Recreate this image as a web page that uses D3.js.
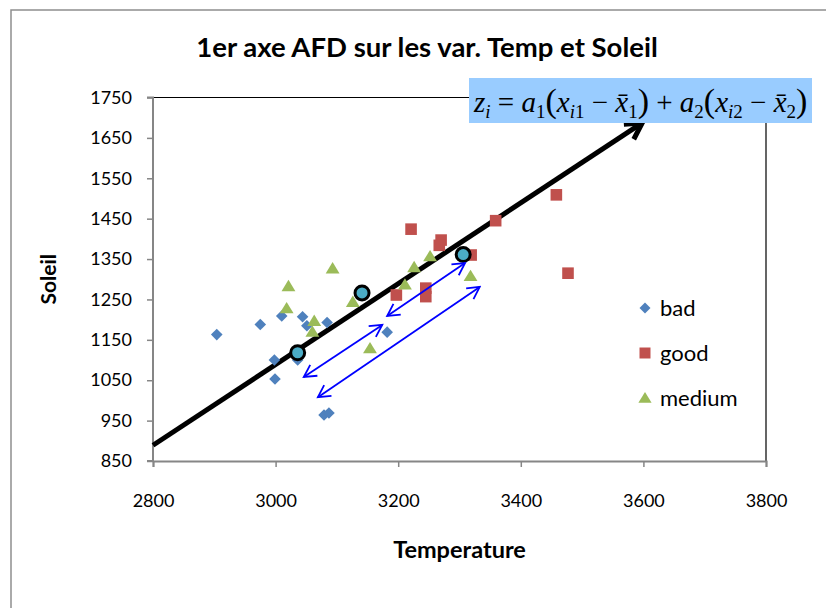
<!DOCTYPE html>
<html>
<head>
<meta charset="utf-8">
<script src="https://cdn.jsdelivr.net/npm/d3@7"></script>
<style>
  body { margin: 0; background: #fff; }
  svg { display: block; }
</style>
</head>
<body>
<svg id="chart" width="826" height="608"></svg>
<script>
// Axis ticks
const xTicks = [2800, 3000, 3200, 3400, 3600, 3800];
const yTicks = [850, 950, 1050, 1150, 1250, 1350, 1450, 1550, 1650, 1750];

// Observations per class: Temperature / Soleil
const badTemp = [2904, 2975, 3010, 3044, 3051, 3084, 2998, 2999, 3036, 3182, 3079, 3087];
const badSun  = [1163, 1188, 1209, 1207, 1185, 1193, 1100, 1053, 1100, 1169, 964, 969];
const goodTemp = [3221, 3270, 3267, 3359, 3458, 3477, 3197, 3245, 3245, 3319];
const goodSun  = [1424, 1397, 1384, 1445, 1509, 1315, 1261, 1278, 1257, 1360];
const mediumTemp = [3093, 3021, 3018, 3063, 3060, 3126, 3211, 3226, 3252, 3318, 3154];
const mediumSun  = [1327, 1283, 1228, 1197, 1170, 1244, 1287, 1330, 1357, 1308, 1129];

// Class centroids (bad, medium, good)
const centroidTemp = [3036, 3141, 3306];
const centroidSun  = [1118, 1266, 1361];

// First discriminant axis, drawn as an arrow
const axisFrom = [2800, 889];
const axisTo   = [3598, 1687];

// Double-headed arrows showing the spread along the axis
const spreadFrom = [[3046, 1058], [3069, 1008], [3182, 1209]];
const spreadTo   = [[3174, 1187], [3333, 1281], [3309, 1340]];

const legendLabels = ["bad", "good", "medium"];
const colors = { bad: "#4f81bd", good: "#c0504d", medium: "#9bbb59" };

const svg = d3.select("#chart");
const sans = "Lato, 'Open Sans', sans-serif";

const x = d3.scaleLinear().domain([2800, 3800]).range([153, 766]);
const y = d3.scaleLinear().domain([850, 1750]).range([461, 97.5]);

// Outer chart frame
svg.append("rect")
  .attr("x", 11).attr("y", 10).attr("width", 900).attr("height", 700)
  .attr("fill", "#fff").attr("stroke", "#8e8e8e").attr("stroke-width", 1.5);

// Title
svg.append("text")
  .attr("x", 427).attr("y", 57)
  .attr("text-anchor", "middle")
  .attr("font-family", sans).attr("font-weight", "bold").attr("font-size", 27.5)
  .attr("fill", "#000")
  .text("1er axe AFD sur les var. Temp et Soleil");

// Plot area top and right borders
svg.append("path")
  .attr("d", `M${x(2800)},${y(1750)}H${x(3800)}V${y(850)}`)
  .attr("fill", "none").attr("stroke", "#000").attr("stroke-width", 1.2);

// Axes
const axisColor = "#868686";
const gx = svg.append("g").attr("transform", `translate(0,${y(850)})`)
  .call(d3.axisBottom(x).tickValues(xTicks).tickSize(6).tickPadding(27).tickFormat(d3.format("d")));
const gy = svg.append("g").attr("transform", `translate(${x(2800)},0)`)
  .call(d3.axisLeft(y).tickValues(yTicks).tickSize(6).tickPadding(15).tickFormat(d3.format("d")));
[gx, gy].forEach(g => {
  g.select(".domain").attr("stroke", axisColor).attr("stroke-width", 2);
  g.selectAll(".tick line").attr("stroke", axisColor).attr("stroke-width", 1.5);
  g.selectAll(".tick text").attr("font-family", sans).attr("font-size", 18).attr("fill", "#000");
});
gy.select(".domain").attr("d", `M-6,${y(1750)}H0V${y(850)}H-6`);

// Axis titles
svg.append("text")
  .attr("x", (x(2800) + x(3800)) / 2).attr("y", 558)
  .attr("text-anchor", "middle")
  .attr("font-family", sans).attr("font-weight", "bold").attr("font-size", 23.5)
  .text("Temperature");
svg.append("text")
  .attr("transform", `translate(56,${(y(850) + y(1750)) / 2}) rotate(-90)`)
  .attr("text-anchor", "middle")
  .attr("font-family", sans).attr("font-weight", "bold").attr("font-size", 21)
  .text("Soleil");

// Arrowhead markers
const defs = svg.append("defs");
defs.append("marker")
  .attr("id", "bigHead").attr("viewBox", "-20 -12 24 24")
  .attr("refX", 0).attr("refY", 0)
  .attr("markerWidth", 24).attr("markerHeight", 24)
  .attr("markerUnits", "userSpaceOnUse").attr("orient", "auto")
  .append("path").attr("d", "M-16,-9L0,0L-16,9")
  .attr("fill", "none").attr("stroke", "#000").attr("stroke-width", 5)
  .attr("stroke-linejoin", "miter");
defs.append("marker")
  .attr("id", "blueHead").attr("viewBox", "-16 -10 18 20")
  .attr("refX", 0).attr("refY", 0)
  .attr("markerWidth", 18).attr("markerHeight", 20)
  .attr("markerUnits", "userSpaceOnUse").attr("orient", "auto-start-reverse")
  .append("path").attr("d", "M-12,-6.5L0,0L-12,6.5")
  .attr("fill", "none").attr("stroke", "#0000ff").attr("stroke-width", 1.8);

// Discriminant axis
svg.append("line")
  .attr("x1", x(axisFrom[0])).attr("y1", y(axisFrom[1]))
  .attr("x2", x(axisTo[0])).attr("y2", y(axisTo[1]))
  .attr("stroke", "#000").attr("stroke-width", 5)
  .attr("marker-end", "url(#bigHead)");

// Marker shapes
const shape = {
  bad: s => `M0,${-s}L${s},0L0,${s}L${-s},0Z`,
  good: s => `M${-s},${-s}H${s}V${s}H${-s}Z`,
  medium: s => `M0,${-s}L${s * 1.1},${s * 0.8}H${-s * 1.1}Z`
};
const shapeSize = { bad: 5.8, good: 5.8, medium: 6.3 };

const series = [
  { key: "bad", t: badTemp, s: badSun },
  { key: "good", t: goodTemp, s: goodSun },
  { key: "medium", t: mediumTemp, s: mediumSun }
];
series.forEach(sr => {
  svg.append("g").selectAll("path")
    .data(sr.t.map((t, i) => [t, sr.s[i]]))
    .join("path")
    .attr("transform", d => `translate(${x(d[0])},${y(d[1])})`)
    .attr("d", shape[sr.key](shapeSize[sr.key]))
    .attr("fill", colors[sr.key]);
});

// Class centroids
svg.append("g").selectAll("circle")
  .data(centroidTemp.map((t, i) => [t, centroidSun[i]]))
  .join("circle")
  .attr("cx", d => x(d[0])).attr("cy", d => y(d[1]))
  .attr("r", 7)
  .attr("fill", "#4bacc6").attr("stroke", "#000").attr("stroke-width", 3);

// Spread arrows
svg.append("g").selectAll("line")
  .data(spreadFrom.map((f, i) => [f, spreadTo[i]]))
  .join("line")
  .attr("x1", d => x(d[0][0])).attr("y1", d => y(d[0][1]))
  .attr("x2", d => x(d[1][0])).attr("y2", d => y(d[1][1]))
  .attr("stroke", "#0000ff").attr("stroke-width", 1.8)
  .attr("marker-start", "url(#blueHead)").attr("marker-end", "url(#blueHead)");

// Legend
const legend = svg.append("g");
legendLabels.forEach((k, i) => {
  const cy = 308 + i * 45;
  legend.append("path")
    .attr("transform", `translate(645,${cy})`)
    .attr("d", shape[k](k === "medium" ? 6 : 5.5))
    .attr("fill", colors[k]);
  legend.append("text")
    .attr("x", 660).attr("y", cy).attr("dy", "0.36em")
    .attr("font-family", sans).attr("font-size", 22)
    .text(k);
});

// Formula box
svg.append("rect")
  .attr("x", 469).attr("y", 78).attr("width", 343).attr("height", 45)
  .attr("fill", "#99ccff");

const formula = svg.append("text")
  .attr("x", 474).attr("y", 112)
  .attr("font-family", "'Liberation Serif', 'DejaVu Serif', serif")
  .attr("font-size", 29).attr("fill", "#000");
let shift = 0;
function part(txt, opt = {}) {
  const target = opt.sub ? 6 : 0;
  const ts = formula.append("tspan").text(txt);
  if (target !== shift) { ts.attr("dy", target - shift); shift = target; }
  if (opt.it) ts.attr("font-style", "italic");
  if (opt.sub) ts.attr("font-size", 19);
  if (opt.big) ts.attr("font-size", 34);
}
part("z", { it: true }); part("i", { it: true, sub: true });
part(" = ");
part("a", { it: true }); part("1", { sub: true });
part("(", { big: true });
part("x", { it: true }); part("i", { it: true, sub: true }); part("1", { sub: true });
part(" − ");
part("x̄", { it: true }); part("1", { sub: true });
part(")", { big: true });
part(" + ");
part("a", { it: true }); part("2", { sub: true });
part("(", { big: true });
part("x", { it: true }); part("i", { it: true, sub: true }); part("2", { sub: true });
part(" − ");
part("x̄", { it: true }); part("2", { sub: true });
part(")", { big: true });
</script>
</body>
</html>
